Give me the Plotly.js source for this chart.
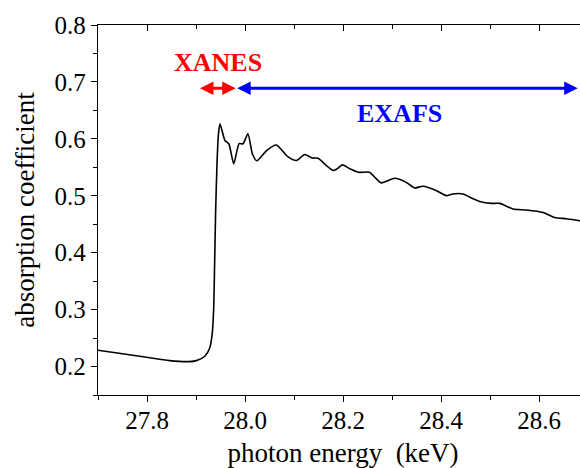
<!DOCTYPE html>
<html>
<head>
<meta charset="utf-8">
<script src="https://cdn.plot.ly/plotly-3.0.1.min.js"></script>
<style>
html,body{margin:0;padding:0;overflow:hidden;background:#fff;}
#chart{width:600px;height:468px;}
</style>
</head>
<body>
<div id="chart"></div>
<script>
// photon energy (keV)
const energy = [27.700, 27.750, 27.799, 27.846, 27.887, 27.901, 27.918, 27.928, 27.933, 27.936, 27.938, 27.940, 27.943, 27.946, 27.949,
  27.959, 27.967, 27.977, 27.988, 27.996, 28.006, 28.015, 28.024, 28.044, 28.064, 28.086, 28.105, 28.122, 28.137, 28.149,
  28.166, 28.180, 28.188, 28.199, 28.214, 28.231, 28.254, 28.265, 28.278, 28.306, 28.329, 28.346, 28.363, 28.391, 28.411,
  28.424, 28.445, 28.462, 28.479, 28.503, 28.520, 28.547, 28.574, 28.608, 28.632, 28.656, 28.683, 28.700];
// absorption coefficient
const absorption = [0.2286, 0.2225, 0.2162, 0.2104, 0.2087, 0.2104, 0.2180, 0.2326, 0.2568, 0.300, 0.380, 0.470, 0.560, 0.610, 0.6266,
  0.5972, 0.5914, 0.5561, 0.5914, 0.5914, 0.6090, 0.5737, 0.5614, 0.5795, 0.5892, 0.5698, 0.5619, 0.5725, 0.5663, 0.5660,
  0.5531, 0.5443, 0.5473, 0.5543, 0.5473, 0.5413, 0.5413, 0.5325, 0.5226, 0.5307, 0.5236, 0.5138, 0.5166, 0.5090, 0.5002,
  0.5032, 0.5032, 0.4961, 0.4901, 0.4866, 0.4866, 0.4767, 0.4750, 0.4707, 0.4619, 0.4596, 0.4561, 0.4540];
// region arrows
const regionLabels = ["XANES", "EXAFS"];
const regionStart = [27.905, 27.981];
const regionEnd = [27.981, 28.679];
const regionLabelX = [27.944, 28.315];
const regionLabelY = [0.735, 0.645];
const arrowY = 0.689;
const regionColors = ["#ff0000", "#0000ff"];

const FONT = '"Liberation Serif", "Times New Roman", Times, serif';

const trace = {
  x: energy, y: absorption, type: 'scatter', mode: 'lines',
  line: {color: '#000', width: 1.6, shape: 'spline', smoothing: 0.6},
  hoverinfo: 'skip', showlegend: false
};
const topTrace = {x: [27.7], y: [0.2], xaxis: 'x2', yaxis: 'y', mode: 'markers', marker: {opacity: 0}, showlegend: false, hoverinfo: 'skip'};

const annotations = [];
for (let i = 0; i < regionLabels.length; i++) {
  annotations.push({
    x: regionEnd[i], y: arrowY, ax: regionStart[i], ay: arrowY,
    xref: 'x', yref: 'y', axref: 'x', ayref: 'y',
    text: '', showarrow: true, arrowhead: 2, startarrowhead: 2, arrowside: 'end+start',
    arrowsize: 0.9, startarrowsize: 0.9, arrowwidth: 3, arrowcolor: regionColors[i]
  });
  annotations.push({
    x: regionLabelX[i], y: regionLabelY[i], xref: 'x', yref: 'y', showarrow: false,
    text: '<b>' + regionLabels[i] + '</b>',
    font: {family: FONT, size: 26, color: regionColors[i]}
  });
}

const layout = {
  width: 600, height: 468,
  margin: {l: 98, r: 12, t: 25, b: 73},
  paper_bgcolor: '#fff', plot_bgcolor: '#fff',
  font: {family: FONT, size: 25, color: '#000'},
  xaxis: {
    range: [27.7, 28.7], dtick: 0.2, tick0: 27.8, tickformat: '.1f',
    ticks: 'outside', ticklen: 6, tickwidth: 1, tickcolor: '#000',
    minor: {dtick: 0.1, ticks: 'outside', ticklen: 4, tickcolor: '#000'},
    showline: true, linecolor: '#000', linewidth: 1.2, showgrid: false, zeroline: false,
    ticklabelstandoff: -3,
    tickfont: {family: FONT, size: 25, color: '#000'},
    title: {text: 'photon energy\u00A0\u00A0(keV)', font: {family: FONT, size: 27, color: '#000'}, standoff: 15}
  },
  xaxis2: {
    overlaying: 'x', side: 'top', range: [27.7, 28.7], dtick: 0.2, tick0: 27.8,
    ticks: 'inside', ticklen: 6, tickcolor: '#000', showticklabels: false,
    minor: {dtick: 0.1, ticks: 'inside', ticklen: 4, tickcolor: '#000'},
    showline: true, linecolor: '#000', linewidth: 1.2, showgrid: false, zeroline: false
  },
  yaxis: {
    range: [0.15, 0.8], dtick: 0.1, tick0: 0.2, tickformat: '.1f',
    ticks: 'outside', ticklen: 6, tickwidth: 1, tickcolor: '#000',
    minor: {dtick: 0.05, ticks: 'outside', ticklen: 4, tickcolor: '#000'},
    showline: true, linecolor: '#000', linewidth: 1.2, showgrid: false, zeroline: false,
    tickfont: {family: FONT, size: 25, color: '#000'},
    title: {text: 'absorption coefficient', font: {family: FONT, size: 27, color: '#000'}, standoff: 12}
  },
  annotations: annotations,
  showlegend: false
};

Plotly.newPlot('chart', [trace, topTrace], layout, {displayModeBar: false, staticPlot: true});
</script>
</body>
</html>
